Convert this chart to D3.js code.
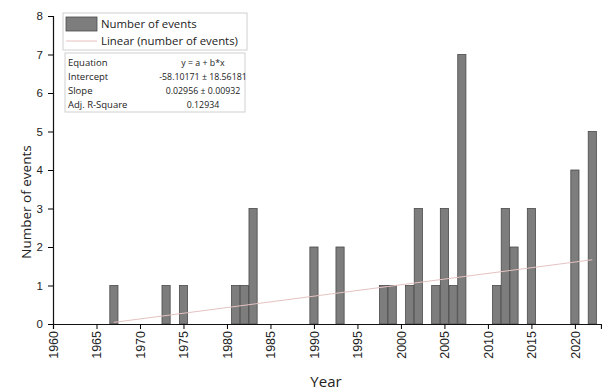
<!DOCTYPE html>
<html>
<head>
<meta charset="utf-8">
<script src="https://cdn.jsdelivr.net/npm/d3@7"></script>
<style>
  body { margin: 0; background: #fff; }
  svg { font-family: "Open Sans", "Noto Sans", sans-serif; }
</style>
</head>
<body>
<svg></svg>
<script>
// data
const years  = [1967, 1973, 1975, 1981, 1982, 1983, 1990, 1993, 1998, 1999, 2001, 2002,
                2004, 2005, 2006, 2007, 2011, 2012, 2013, 2015, 2020, 2022];
const events = [1, 1, 1, 1, 1, 3, 2, 2, 1, 1, 1, 3,
                1, 3, 1, 7, 1, 3, 2, 3, 4, 5];
const fitIntercept = -58.10171;
const fitSlope = 0.02956;
const statLabels = ['Equation', 'Intercept', 'Slope', 'Adj. R-Square'];
const statValues = ['y = a + b*x', '-58.10171 \u00b1 18.56181', '0.02956 \u00b1 0.00932', '0.12934'];

const size = {w: 602, h: 390};
const margin = {t: 16, r: 1, b: 66, l: 53};
const svg = d3.select('svg').attr('width', size.w).attr('height', size.h);

const x = d3.scaleLinear().domain([1960, 2023]).range([margin.l, size.w - margin.r]);
const y = d3.scaleLinear().domain([0, 8]).range([size.h - margin.b, margin.t]);

const data = years.map((yr, i) => ({year: yr, n: events[i]}));
const bw = (x(1961) - x(1960)) * 0.94;

// bars
svg.append('g').selectAll('rect')
  .data(data)
  .join('rect')
  .attr('x', d => x(d.year) - bw / 2)
  .attr('y', d => y(d.n))
  .attr('width', bw)
  .attr('height', d => y(0) - y(d.n))
  .attr('fill', '#7d7d7d')
  .attr('stroke', '#4a4a4a')
  .attr('stroke-width', 0.8);

// linear fit
const fitX = d3.extent(years);
svg.append('line')
  .attr('x1', x(fitX[0])).attr('y1', y(fitIntercept + fitSlope * fitX[0]))
  .attr('x2', x(fitX[1])).attr('y2', y(fitIntercept + fitSlope * fitX[1]))
  .attr('stroke', '#e6c2c2')
  .attr('stroke-width', 1);

// x axis
const xAxis = svg.append('g').attr('transform', `translate(0,${y(0)})`);
xAxis.call(d3.axisBottom(x).tickValues(d3.range(1960, 2024, 1)).tickSize(3).tickFormat(''))
  .call(g => g.select('.domain').remove());
xAxis.call(d3.axisBottom(x).tickValues(d3.range(1960, 2021, 5)).tickSize(5).tickFormat(d3.format('d')))
  .call(g => g.selectAll('text')
    .attr('transform', 'rotate(-90)')
    .attr('text-anchor', 'end')
    .attr('x', -7).attr('y', 0).attr('dy', '0.35em')
    .attr('font-size', 12.5).attr('fill', '#222'));
xAxis.selectAll('.domain').attr('stroke', '#111').attr('stroke-width', 1.2);

// y axis
const yAxis = svg.append('g').attr('transform', `translate(${x(1960)},0)`);
yAxis.call(d3.axisLeft(y).tickValues(d3.range(0, 8.01, 0.5)).tickSize(3).tickFormat(''))
  .call(g => g.select('.domain').remove());
yAxis.call(d3.axisLeft(y).ticks(8).tickSize(5).tickFormat(d3.format('d')))
  .call(g => g.selectAll('text').attr('font-size', 11.5).attr('fill', '#222').attr('x', -10));
yAxis.selectAll('.domain').attr('stroke', '#111').attr('stroke-width', 1.2);

// axis titles
svg.append('text')
  .attr('transform', 'translate(31,202) rotate(-90)')
  .attr('text-anchor', 'middle')
  .attr('font-size', 13.5).attr('fill', '#222')
  .text('Number of events');
svg.append('text')
  .attr('x', 326).attr('y', 387)
  .attr('text-anchor', 'middle')
  .attr('font-size', 15).attr('fill', '#222')
  .text('Year');

// legend
const leg = svg.append('g');
leg.append('rect').attr('x', 63).attr('y', 13).attr('width', 184).attr('height', 37)
  .attr('fill', '#fff').attr('stroke', '#d0d0d0');
leg.append('rect').attr('x', 66).attr('y', 17).attr('width', 31).attr('height', 14)
  .attr('fill', '#7d7d7d').attr('stroke', '#4a4a4a').attr('stroke-width', 0.8);
leg.append('text').attr('x', 101).attr('y', 28).attr('font-size', 11.4).attr('fill', '#222')
  .text('Number of events');
leg.append('line').attr('x1', 66).attr('x2', 97).attr('y1', 41).attr('y2', 41)
  .attr('stroke', '#e6c2c2');
leg.append('text').attr('x', 101).attr('y', 45).attr('font-size', 11.4).attr('fill', '#222')
  .text('Linear (number of events)');

// fit statistics table
const tab = svg.append('g');
tab.append('rect').attr('x', 65).attr('y', 53).attr('width', 180).attr('height', 59)
  .attr('fill', '#fff').attr('stroke', '#d0d0d0');
tab.selectAll('text.lab')
  .data(statLabels)
  .join('text')
  .attr('class', 'lab')
  .attr('x', 68).attr('y', (d, i) => 66 + i * 14)
  .attr('font-size', 9.5).attr('fill', '#222')
  .text(d => d);
tab.selectAll('text.val')
  .data(statValues)
  .join('text')
  .attr('class', 'val')
  .attr('x', 203).attr('y', (d, i) => 66 + i * 14)
  .attr('text-anchor', 'middle')
  .attr('font-size', 8.8).attr('fill', '#222')
  .text(d => d);
</script>
</body>
</html>
